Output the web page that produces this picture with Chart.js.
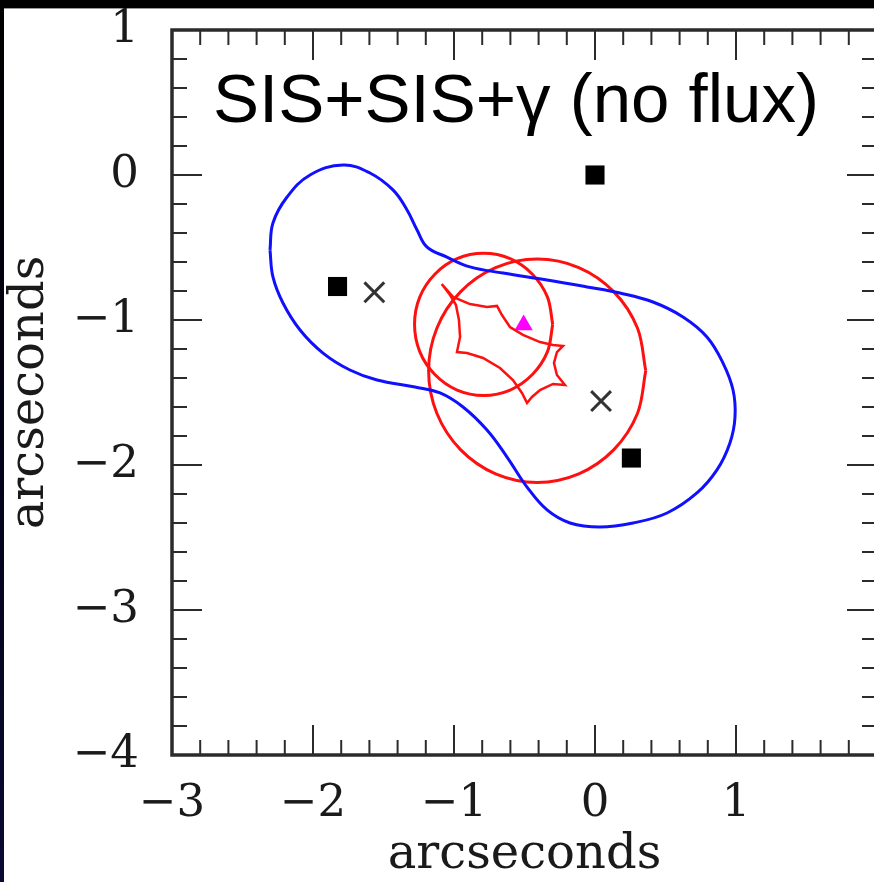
<!DOCTYPE html>
<html><head><meta charset="utf-8">
<script src="https://cdn.jsdelivr.net/npm/chart.js@4.4.0/dist/chart.umd.min.js"></script>
<style>
html,body{margin:0;padding:0;overflow:hidden;width:874px;height:882px;background:linear-gradient(180deg,#000 0%,#03031a 55%,#0a0a33 100%);}
#paper{position:absolute;left:4px;top:8px;width:900px;height:900px;background:#fff;border-top:1px solid #9a9a9a;}
#wrap{position:absolute;left:0;top:0;width:900px;height:882px;}
</style></head><body>
<div id="paper"></div>
<div id="wrap"><canvas id="c" width="900" height="882"></canvas></div>
<script>
// ---- data (arcseconds) ----
const titleText = 'SIS+SIS+\u03b3 (no flux)';
const xTickLabels = [-3, -2, -1, 0, 1, 2];
const yTickLabels = [-4, -3, -2, -1, 0, 1];
const criticalCurve = [
 [-2.305,-0.517],[-2.284,-0.331],[-2.184,-0.152],[-2.021,0.0],[-1.787,0.069],[-1.596,0.014],
 [-1.433,-0.103],[-1.333,-0.241],[-1.262,-0.379],[-1.191,-0.497],[-1.050,-0.566],[-0.887,-0.634],
 [-0.652,-0.676],[-0.340,-0.724],[-0.057,-0.772],[0.177,-0.814],[0.411,-0.876],[0.624,-0.979],
 [0.794,-1.117],[0.908,-1.297],[0.979,-1.483],[0.993,-1.669],[0.957,-1.848],[0.865,-2.034],
 [0.723,-2.193],[0.511,-2.331],[0.270,-2.400],[0.035,-2.428],[-0.177,-2.400],[-0.340,-2.310],
 [-0.482,-2.152],[-0.624,-1.945],[-0.766,-1.759],[-0.936,-1.600],[-1.099,-1.503],[-1.277,-1.462],
 [-1.546,-1.414],[-1.738,-1.345],[-1.929,-1.228],[-2.092,-1.069],[-2.213,-0.883],[-2.284,-0.703],
 [-2.305,-0.517]
];
const smallCircle = [
 [-0.30,-1.03],[-0.337,-0.842],[-0.444,-0.684],[-0.602,-0.577],[-0.79,-0.54],[-0.978,-0.577],
 [-1.136,-0.684],[-1.243,-0.842],[-1.28,-1.03],[-1.243,-1.218],[-1.136,-1.376],[-0.978,-1.483],
 [-0.79,-1.52],[-0.602,-1.483],[-0.444,-1.376],[-0.337,-1.218],[-0.30,-1.03]
];
const bigCircle = [
 [0.36,-1.35],[0.301,-1.055],[0.134,-0.806],[-0.115,-0.639],[-0.41,-0.58],[-0.705,-0.639],
 [-0.954,-0.806],[-1.121,-1.055],[-1.18,-1.35],[-1.121,-1.645],[-0.954,-1.894],[-0.705,-2.061],
 [-0.41,-2.12],[-0.115,-2.061],[0.134,-1.894],[0.301,-1.645],[0.36,-1.35]
];
const caustic = [
 [-1.087,-0.752],[-1.007,-0.841],[-0.887,-0.890],[-0.766,-0.910],[-0.695,-0.903],
 [-0.660,-0.966],[-0.603,-1.048],[-0.511,-1.103],[-0.390,-1.152],[-0.298,-1.172],[-0.227,-1.179],
 [-0.270,-1.221],[-0.291,-1.297],[-0.270,-1.379],[-0.213,-1.448],
 [-0.298,-1.441],[-0.390,-1.483],[-0.447,-1.531],[-0.482,-1.572],
 [-0.518,-1.503],[-0.582,-1.414],[-0.674,-1.331],[-0.794,-1.262],[-0.908,-1.228],[-0.979,-1.221],
 [-0.957,-1.117],[-0.965,-1.000],[-0.986,-0.897],[-1.028,-0.828],[-1.087,-0.752]
];
const imagePositions = [[-1.826,-0.769],[0.0,0.0],[0.258,-1.952]];
const lensPositions = [[-1.565,-0.809],[0.043,-1.559]];
const sourcePosition = [[-0.506,-1.034]];

const pts = a => a.map(p => ({x:p[0], y:p[1]}));
const fmt = v => (v === 2 ? '' : (v < 0 ? '\u2212' + Math.abs(v) : String(v)));
const serif = '"DejaVu Serif", serif';

const frame = {
  id: 'frame',
  afterDatasetsDraw(chart) {
    const {ctx, chartArea: a, scales: {x, y}} = chart;
    ctx.save();
    ctx.strokeStyle = '#2b2b2b';
    ctx.lineCap = 'butt';
    ctx.lineWidth = 2;
    const seg = (x1, y1, x2, y2) => { ctx.beginPath(); ctx.moveTo(x1, y1); ctx.lineTo(x2, y2); ctx.stroke(); };
    for (let i = 0; i <= 25; i++) {
      const v = x.min + i * 0.2;
      const major = Math.abs(v - Math.round(v)) < 1e-6;
      const L = major ? 30 : 15;
      const px = x.getPixelForValue(v);
      seg(px, a.bottom, px, a.bottom - L);
      seg(px, a.top, px, a.top + L);
    }
    for (let i = 0; i <= 25; i++) {
      const v = y.min + i * 0.2;
      const major = Math.abs(v - Math.round(v)) < 1e-6;
      const L = major ? 30 : 15;
      const py = y.getPixelForValue(v);
      seg(a.left, py, a.left + L, py);
      seg(a.right, py, a.right - L, py);
    }
    ctx.lineWidth = 3.5;
    ctx.strokeRect(a.left, a.top, a.right - a.left, a.bottom - a.top);
    ctx.fillStyle = '#000';
    ctx.font = '69px "Liberation Sans", Arial, sans-serif';
    ctx.textBaseline = 'alphabetic';
    ctx.textAlign = 'left';
    ctx.fillText(titleText, a.left + 41, a.top + 92);
    ctx.restore();
  }
};

new Chart(document.getElementById('c'), {
  type: 'scatter',
  data: {
    datasets: [
      {data: pts(criticalCurve), showLine: true, borderColor: '#1010ff', borderWidth: 3, pointRadius: 0, tension: 0.4, fill: false},
      {data: pts(smallCircle), showLine: true, borderColor: '#ff1010', borderWidth: 3, pointRadius: 0, tension: 0.34, fill: false},
      {data: pts(bigCircle), showLine: true, borderColor: '#ff1010', borderWidth: 3, pointRadius: 0, tension: 0.34, fill: false},
      {data: pts(caustic), showLine: true, borderColor: '#ff1010', borderWidth: 2.5, pointRadius: 0, tension: 0, fill: false},
      {data: pts(imagePositions), pointStyle: 'rect', pointRadius: 13.5, backgroundColor: '#000', borderWidth: 0},
      {data: pts(lensPositions), pointStyle: 'crossRot', pointRadius: 14, borderColor: '#333', borderWidth: 3},
      {data: pts(sourcePosition), pointStyle: 'triangle', pointRadius: 10.5, backgroundColor: '#ff00ff', borderWidth: 0}
    ]
  },
  options: {
    responsive: false,
    animation: false,
    devicePixelRatio: 1,
    layout: {padding: {left: 0, right: 23, top: 30, bottom: 0}},
    plugins: {legend: {display: false}, tooltip: {enabled: false}},
    scales: {
      x: {
        type: 'linear', min: -3, max: 2, position: 'bottom',
        afterBuildTicks: s => { s.ticks = xTickLabels.map(v => ({value: v})); },
        afterFit: s => { s.height = 127; s.paddingLeft = 0; s.paddingRight = 0; },
        grid: {display: false, drawTicks: false}, border: {display: false},
        ticks: {callback: fmt, autoSkip: false, maxRotation: 0, padding: 22, color: '#1a1a1a', font: {family: serif, size: 45}},
        title: {display: true, text: 'arcseconds', color: '#1a1a1a', font: {family: serif, size: 48, lineHeight: 1.0}, padding: {top: 0, bottom: 2}}
      },
      y: {
        type: 'linear', min: -4, max: 1, position: 'left',
        afterBuildTicks: s => { s.ticks = yTickLabels.map(v => ({value: v})); },
        afterFit: s => { s.width = 172; s.paddingTop = 0; s.paddingBottom = 0; },
        grid: {display: false, drawTicks: false}, border: {display: false},
        ticks: {callback: fmt, autoSkip: false, padding: 33, color: '#1a1a1a', font: {family: serif, size: 45}},
        title: {display: true, text: 'arcseconds', color: '#1a1a1a', font: {family: serif, size: 48, lineHeight: 1.0}, padding: {top: 7, bottom: 0}}
      }
    }
  },
  plugins: [frame]
});
</script>
</body></html>
